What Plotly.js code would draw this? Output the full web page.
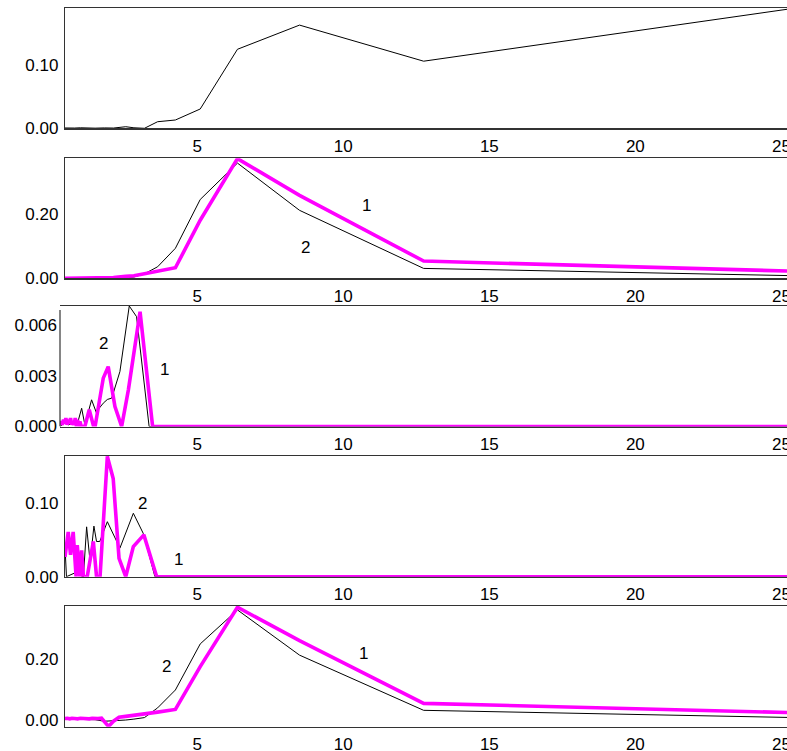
<!DOCTYPE html>
<html>
<head>
<meta charset="utf-8">
<script src="https://cdn.plot.ly/plotly-3.0.1.min.js"></script>
<style>
  html, body { margin: 0; padding: 0; overflow: hidden; background: #fff; }
  #chart { width: 800px; height: 751px; }
</style>
</head>
<body>
<div id="chart"></div>
<script>
// Periods shared by panels 1, 2 and 5
const periodA = [0.47, 0.6, 0.8, 1.0, 1.2, 1.5, 1.82, 2.13, 2.55, 2.83, 3.19, 3.64, 4.25, 5.1, 6.375, 8.5, 12.75, 25.5];

// Panel 1
const p1Black = [0.0005, 0.0002, 0.0004, 0.0008, 0.0003, 0.0002, 0.0006, 0.0004, 0.0025, 0.0008, 0.0, 0.0104, 0.0131, 0.0305, 0.1248, 0.163, 0.106, 0.19];

// Panel 2
const p2Black = [0, 0.0003, 0.0005, 0.0005, 0.0008, 0.001, 0.001, 0.0015, 0.002, 0.004, 0.014, 0.036, 0.094, 0.247, 0.361, 0.213, 0.031, 0.008];
const p2Magenta = [0, 0.0003, 0.0005, 0.0005, 0.0008, 0.001, 0.0015, 0.002, 0.006, 0.008, 0.014, 0.022, 0.033, 0.182, 0.375, 0.26, 0.054, 0.022];

// Panel 3
const p3BlackX = [0.30, 0.45, 0.6, 0.75, 0.9, 1.04, 1.15, 1.38, 1.55, 1.65, 1.78, 1.92, 2.07, 2.35, 2.67, 2.92, 3.35, 25.5];
const p3Black = [0.0, 0.0002, 0.0001, 0.0003, 0.0002, 0.00108, 0.0001, 0.00158, 0.00079, 0.0011, 0.00138, 0.0016, 0.00168, 0.00325, 0.00713, 0.0065, 0.0, 0.0];
const p3MagentaX = [0.30, 0.34, 0.38, 0.42, 0.46, 0.50, 0.54, 0.58, 0.62, 0.66, 0.70, 0.74, 0.78, 0.82, 0.86, 0.90, 0.94, 0.98, 1.03, 1.15, 1.30, 1.45, 1.50, 1.78, 1.95, 2.18, 2.41, 2.64, 3.04, 3.47, 25.5];
const p3Magenta = [0.0001, 0.0003, 0.0001, 0.0004, 0.0002, 0.0005, 0.0001, 0.0004, 0.0002, 0.0005, 0.0001, 0.0003, 0.0001, 0.0005, 0.0, 0.0004, 0.0, 0.0003, 0.0, 0.0, 0.00099, 0.0, 0.0, 0.00286, 0.00354, 0.00118, 0.0, 0.00217, 0.00679, 0.0, 0.0];

// Panel 4
const p4BlackX = [0.47, 0.52, 0.8, 1.10, 1.21, 1.33, 1.46, 1.55, 1.66, 1.92, 2.35, 2.81, 3.15, 3.55, 25.5];
const p4Black = [0.041, 0.0, 0.005, 0.0, 0.068, 0.02, 0.069, 0.048, 0.048, 0.075, 0.039, 0.0865, 0.059, 0.0, 0.0];
const p4MagentaX = [0.47, 0.58, 0.66, 0.75, 0.85, 0.89, 0.98, 1.04, 1.10, 1.23, 1.44, 1.55, 1.67, 1.92, 2.12, 2.32, 2.55, 2.81, 3.17, 3.61, 25.5];
const p4Magenta = [0.027, 0.061, 0.030, 0.061, 0.0, 0.043, 0.0, 0.036, 0.0, 0.0, 0.048, 0.0, 0.0, 0.164, 0.134, 0.025, 0.0, 0.041, 0.057, 0.0, 0.0];

// Panel 5
const p5Black = [0.003, 0.003, 0.002, 0.002, 0.002, 0.001, -0.004, -0.003, 0.0, 0.003, 0.008, 0.040, 0.099, 0.251, 0.363, 0.214, 0.032, 0.008];
const p5MagentaX = [0.47, 0.55, 0.63, 0.71, 0.8, 0.9, 1.0, 1.1, 1.2, 1.3, 1.4, 1.5, 1.6, 1.72, 1.82, 1.96, 2.13, 2.32, 2.55, 2.83, 3.19, 3.64, 4.25, 5.1, 6.375, 8.5, 12.75, 25.5];
const p5Magenta = [0.005, 0.006, 0.004, 0.006, 0.005, 0.004, 0.006, 0.005, 0.005, 0.004, 0.006, 0.005, 0.005, 0.006, -0.006, -0.021, -0.004, 0.009, 0.012, 0.015, 0.019, 0.026, 0.035, 0.176, 0.372, 0.262, 0.055, 0.024];

// Axis ticks
const xTicks = [5, 10, 15, 20, 25];
const yTicks = [[0, 0.1], [0, 0.2], [0, 0.003, 0.006], [0, 0.1], [0, 0.2]];
const yFormats = ['.2f', '.2f', '.3f', '.2f', '.2f'];
const yRanges = [[0, 0.19], [0, 0.376], [0, 0.00713], [0, 0.1646], [-0.022, 0.376]];

// Curve labels: [panel, text, x, y]
const curveLabels = [
  [2, '1', 10.8, 0.229], [2, '2', 8.69, 0.096],
  [3, '2', 1.80, 0.00494], [3, '1', 3.89, 0.00335],
  [4, '2', 3.14, 0.1005], [4, '1', 4.37, 0.0228],
  [5, '2', 3.96, 0.175], [5, '1', 10.7, 0.218]
];

const W = 800, H = 751;
// panel frames in pixels: [top, bottom, left]
const frames = [[8, 128.3, 65], [158.3, 278.3, 65], [306, 426.5, 60], [456, 576.7, 65], [606, 726.7, 65]];
const rightPx = 796;

const fontSpec = { family: 'Liberation Sans, Arial, Helvetica, sans-serif', size: 17, color: '#000' };
const black = { color: '#000', width: 1 };
const magenta = { color: '#FF00FF', width: 3.6 };

const traces = [];
function line(ax, x, y, style) {
  traces.push({ type: 'scatter', mode: 'lines', x: x, y: y, line: style,
                xaxis: 'x' + (ax === 1 ? '' : ax), yaxis: 'y' + (ax === 1 ? '' : ax),
                hoverinfo: 'skip', showlegend: false });
}
line(1, periodA, p1Black, black);
line(2, periodA, p2Black, black);
line(2, periodA, p2Magenta, magenta);
line(3, p3BlackX, p3Black, black);
line(3, p3MagentaX, p3Magenta, magenta);
line(4, p4BlackX, p4Black, black);
line(4, p4MagentaX, p4Magenta, magenta);
line(5, periodA, p5Black, black);
line(5, p5MagentaX, p5Magenta, magenta);

const layout = {
  width: W, height: H,
  margin: { l: 0, r: 0, t: 0, b: 0, pad: 0 },
  paper_bgcolor: '#fff', plot_bgcolor: '#fff',
  showlegend: false, hovermode: false,
  font: fontSpec,
  annotations: [], shapes: []
};

frames.forEach((f, i) => {
  const n = i + 1;
  const sfx = n === 1 ? '' : String(n);
  const xMin = 0.47 - (65 - f[2]) / 29.2;
  layout['xaxis' + sfx] = {
    domain: [f[2] / W, rightPx / W],
    range: [xMin, 25.5],
    anchor: 'y' + sfx,
    tickmode: 'array', tickvals: xTicks, ticktext: xTicks.map(String),
    ticks: '', showgrid: false, zeroline: false,
    showline: true, mirror: true, linecolor: '#333', linewidth: 1.2,
    tickfont: fontSpec, ticklabelstandoff: 2, fixedrange: true
  };
  layout['yaxis' + sfx] = {
    domain: [1 - f[1] / H, 1 - f[0] / H],
    range: yRanges[i],
    anchor: 'x' + sfx,
    tickmode: 'array', tickvals: yTicks[i], tickformat: yFormats[i],
    ticks: '', showgrid: false, zeroline: false,
    showline: n !== 3, linecolor: '#333', linewidth: 1.2,
    tickfont: fontSpec, ticklabelstandoff: 2, fixedrange: true
  };
});

// left frame edge of panel 3 stops a little below its top border
layout.shapes.push({ type: 'line', xref: 'paper', yref: 'y3', x0: 60 / W, x1: 60 / W,
                     y0: 0, y1: 0.0069, line: { color: '#333', width: 1.2 } });

curveLabels.forEach(c => {
  const sfx = c[0] === 1 ? '' : String(c[0]);
  layout.annotations.push({ xref: 'x' + sfx, yref: 'y' + sfx, x: c[2], y: c[3],
                            text: c[1], showarrow: false, font: fontSpec });
});

Plotly.newPlot('chart', traces, layout, { displayModeBar: false, staticPlot: true });
</script>
</body>
</html>
